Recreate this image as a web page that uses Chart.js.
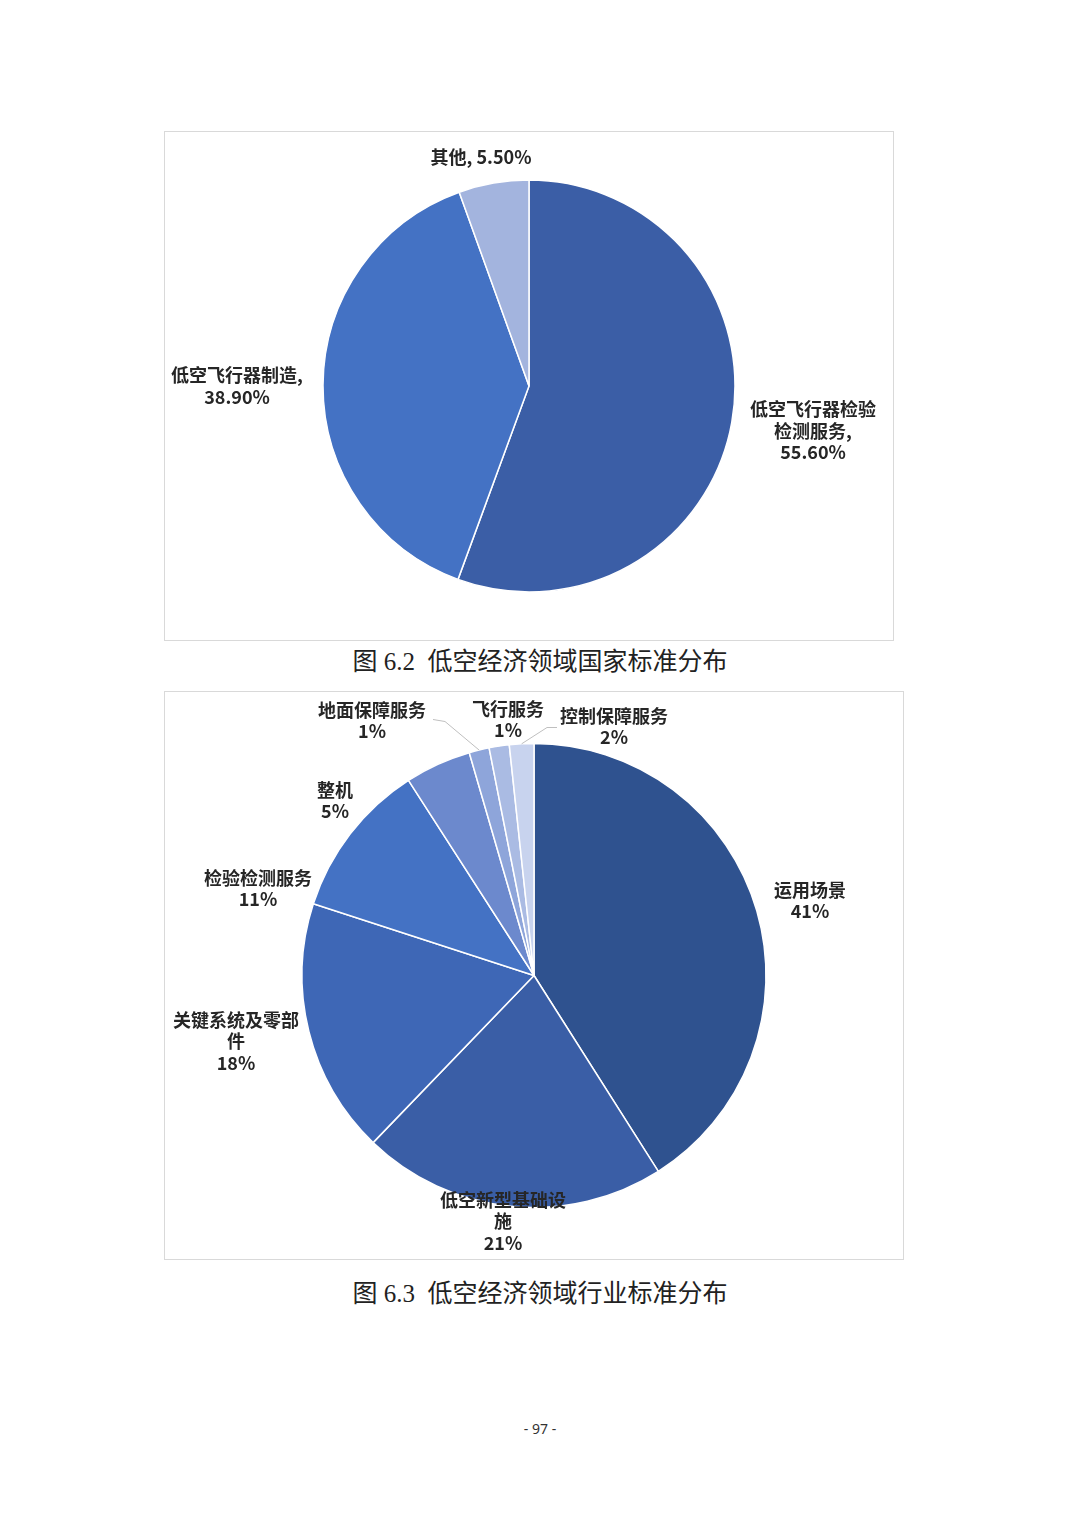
<!DOCTYPE html>
<html>
<head>
<meta charset="utf-8">
<script src="https://cdn.jsdelivr.net/npm/chart.js@4"></script>
<style>
  body { margin: 0; background: #fff; width: 1080px; height: 1527px; position: relative; }
  .box { position: absolute; border: 1px solid #d9d9d9; background: #fff; }
  .box canvas { display: block; }
  .caption { position: absolute; left: 0; width: 1080px; text-align: center;
    font-family: "Liberation Serif", "Noto Sans CJK SC", serif; font-size: 25px; color: #222; }
  .page { position: absolute; left: 0; width: 1080px; text-align: center; top: 1419px;
    font-family: "Noto Sans", "DejaVu Sans", sans-serif; font-size: 14px; color: #333; }
</style>
</head>
<body>
<div class="box" style="left:164px; top:131px;"><canvas id="chart1" width="728" height="508"></canvas></div>
<div class="caption" style="top:641px;">图 6.2&nbsp; 低空经济领域国家标准分布</div>
<div class="box" style="left:164px; top:691px;"><canvas id="chart2" width="738" height="567"></canvas></div>
<div class="caption" style="top:1273px;">图 6.3&nbsp; 低空经济领域行业标准分布</div>
<div class="page">- 97 -</div>

<script>
// fig 6.2 - national standards
const nationalNames = [['低空飞行器检验', '检测服务'], ['低空飞行器制造'], ['其他']];
const nationalValues = [55.6, 38.9, 5.5];
const nationalColors = ['#3B5EA6', '#4472C4', '#A3B4DE'];

// fig 6.3 - industry standards (slice sizes, labels rounded)
const industryNames = [['运用场景'], ['低空新型基础设', '施'], ['关键系统及零部', '件'], ['检验检测服务'],
    ['整机'], ['地面保障服务'], ['飞行服务'], ['控制保障服务']];
const industryValues = [41, 21.2, 17.8, 10.9, 4.6, 1.4, 1.4, 1.7];
const industryColors = ['#2F528F', '#3A5EA6', '#3E67B6', '#4472C4', '#6C89CD', '#8EA5DA', '#AABBE3', '#C8D3EE'];

// label layout (offset of label block centre from pie centre, px)
const nationalLabelPos = [[284, 45], [-292, 0], [-48, -229]];
const nationalInline = [false, false, true];
const industryLabelPos = [[276, -75], [-31, 246], [-298, 66], [-276, -87], [-199, -175], [-162, -255], [-26, -256], [80, -249]];
// leader lines: points relative to pie centre, last point goes to slice edge
const industryLeaders = { 5: [[-101, -256], [-89, -254]], 7: [[23, -248], [13, -248]] };

function labelPlugin(textFn, pos, leaders) {
    return {
        id: 'pieLabels',
        afterDatasetsDraw: function(chart) {
            var ctx = chart.ctx;
            var arcs = chart.getDatasetMeta(0).data;
            ctx.save();
            arcs.forEach(function(arc, i) {
                var p = arc.getProps(['x', 'y', 'startAngle', 'endAngle', 'outerRadius'], true);
                if (leaders && leaders[i]) {
                    var mid = (p.startAngle + p.endAngle) / 2;
                    ctx.beginPath();
                    ctx.strokeStyle = '#bfbfbf';
                    ctx.lineWidth = 1;
                    leaders[i].forEach(function(pt, k) {
                        if (k === 0) ctx.moveTo(p.x + pt[0], p.y + pt[1]);
                        else ctx.lineTo(p.x + pt[0], p.y + pt[1]);
                    });
                    ctx.lineTo(p.x + Math.cos(mid) * p.outerRadius, p.y + Math.sin(mid) * p.outerRadius);
                    ctx.stroke();
                }
                var lines = textFn(i);
                var lh = 21.5;
                var cx = p.x + pos[i][0];
                var cy = p.y + pos[i][1] - (lines.length - 1) * lh / 2;
                ctx.font = 'bold 18px "Noto Sans CJK SC", "Noto Sans", sans-serif';
                ctx.fillStyle = '#262626';
                ctx.textAlign = 'center';
                ctx.textBaseline = 'middle';
                lines.forEach(function(t, k) {
                    ctx.fillText(t, cx, cy + k * lh);
                });
            });
            ctx.restore();
        }
    };
}

function nationalText(i) {
    var name = nationalNames[i].slice();
    var v = nationalValues[i].toFixed(2) + '%';
    if (nationalInline[i]) return [name.join('') + ', ' + v];
    name[name.length - 1] += ',';
    return name.concat([v]);
}

function industryText(i) {
    return industryNames[i].concat([Math.round(industryValues[i]) + '%']);
}

var baseOptions = {
    responsive: false,
    animation: false,
    layout: { padding: 0 },
    plugins: { legend: { display: false }, tooltip: { enabled: false } }
};

var ctx1 = document.getElementById('chart1').getContext('2d');
var myChart1 = new Chart(ctx1, {
    type: 'pie',
    data: {
        labels: nationalNames.map(function(n) { return n.join(''); }),
        datasets: [{
            data: nationalValues,
            backgroundColor: nationalColors,
            borderColor: '#ffffff',
            borderWidth: 1.5,
            radius: 206
        }]
    },
    options: baseOptions,
    plugins: [labelPlugin(nationalText, nationalLabelPos)]
});

var ctx2 = document.getElementById('chart2').getContext('2d');
var myChart2 = new Chart(ctx2, {
    type: 'pie',
    data: {
        labels: industryNames.map(function(n) { return n.join(''); }),
        datasets: [{
            data: industryValues,
            backgroundColor: industryColors,
            borderColor: '#ffffff',
            borderWidth: 1.5,
            radius: 232
        }]
    },
    options: baseOptions,
    plugins: [labelPlugin(industryText, industryLabelPos, industryLeaders)]
});
</script>
</body>
</html>
